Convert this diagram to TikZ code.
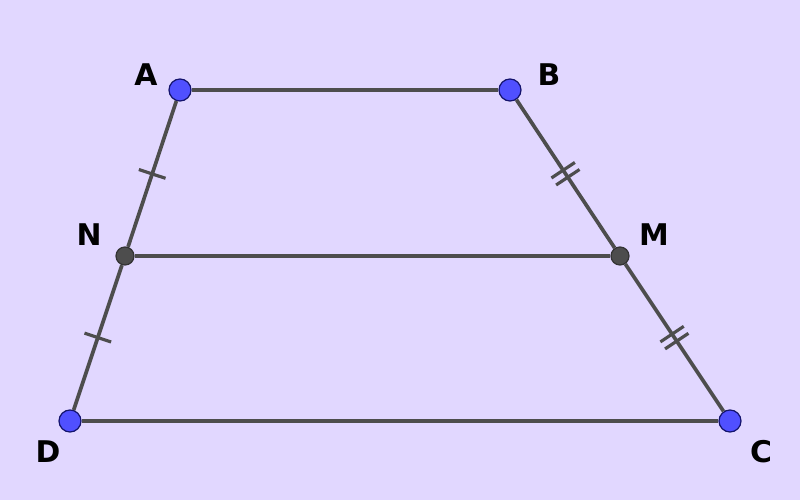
\documentclass[tikz,border=0pt]{standalone}
\usepackage{fontspec}
\setmainfont{DejaVu Sans}
\usetikzlibrary{decorations.markings}
\definecolor{bgcol}{RGB}{225,215,255}
\definecolor{edgecol}{RGB}{77,77,77}
\definecolor{ptblue}{RGB}{80,80,255}
\definecolor{ptrim}{RGB}{20,20,110}
\tikzset{
	bluedot/.style={circle, fill=ptblue, draw=ptrim, line width=0.7pt, inner sep=0pt, minimum size=0.44cm},
	greydot/.style={circle, fill=edgecol, draw=black!80, line width=0.7pt, inner sep=0pt, minimum size=0.36cm},
	lbl/.style={font=\bfseries\fontsize{17}{17}\selectfont, inner sep=0pt},
	side/.style={line width=2.1pt, color=edgecol},
	onetick/.style={decoration={markings, mark=at position 0.5 with {\draw[line width=1.8pt, color=edgecol] (0,-8pt) -- (0,8pt);}}, postaction=decorate},
	twoticks/.style={decoration={markings, mark=at position 0.5 with {\draw[line width=1.8pt, color=edgecol] (-2.4pt,-8pt) -- (-2.4pt,8pt) (2.4pt,-8pt) -- (2.4pt,8pt);}}, postaction=decorate}
}

\begin{document}
\begin{tikzpicture}[x=0.02cm, y=-0.02cm]
			%%%%% START %%%%%
			
			\fill[bgcol] (0, 0) rectangle (800, 500);
			\useasboundingbox (0, 0) rectangle (800, 500);
			
			\node[bluedot] (A) at (180, 90) {};
			\node[bluedot] (B) at (510, 90) {};
			\node[bluedot] (C) at (730, 421) {};
			\node[bluedot] (D) at (70, 421) {};
			\node[greydot] (N) at (125, 256) {};
			\node[greydot] (M) at (620, 256) {};
			
			\draw[side] (A) -- (B);
			\draw[side] (D) -- (C);
			\draw[side] (N) -- (M);
			\draw[side, onetick] (A) -- (N);
			\draw[side, onetick] (N) -- (D);
			\draw[side, twoticks] (B) -- (M);
			\draw[side, twoticks] (M) -- (C);
			
			\node[lbl] (lA) at (146, 75) {A};
			\node[lbl] (lB) at (549, 75) {B};
			\node[lbl] (lC) at (761, 452) {C};
			\node[lbl] (lD) at (48, 452) {D};
			\node[lbl] (lN) at (89, 235) {N};
			\node[lbl] (lM) at (654, 235) {M};
			
			%%%%% END %%%%%
\end{tikzpicture}
\end{document}
